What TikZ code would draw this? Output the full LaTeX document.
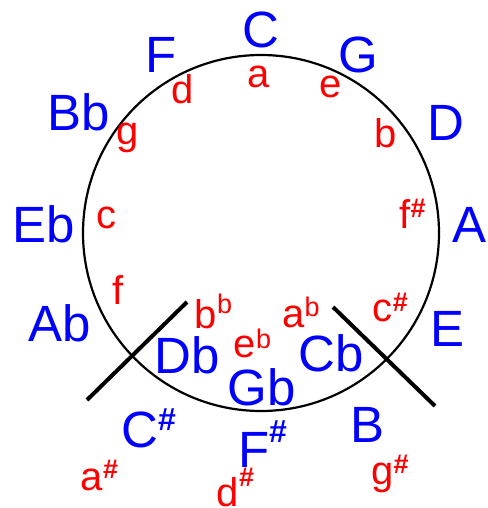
\documentclass[tikz,border=0pt]{standalone}
\usepackage{fontspec}
\setmainfont{Liberation Sans}
\tikzset{major/.style={text=blue, inner sep=0pt, anchor=base, font=\fontsize{51}{60}\selectfont},
  minor/.style={text=red, inner sep=0pt, anchor=base, font=\fontsize{40}{48}\selectfont},
  seam/.style={line width=4pt}}
\newcommand{\hi}[2]{\raisebox{#1pt}{\fontsize{27}{30}\selectfont #2}}
\newcommand{\shp}[2][27]{\raisebox{#2pt}{\fontsize{#1}{30}\selectfont\bfseries\#}}

\begin{document}
\begin{tikzpicture}[x=1pt, y=-1pt]
  \useasboundingbox (0,0) rectangle (487,508);
  \coordinate (ctr) at (261,233);
  \draw[line width=2.2pt] (ctr) circle (178pt);
  % major keys
  \node[major] (C) at (260.5,48) {C};
  \node[major] (G) at (358,73) {G};
  \node[major] (D) at (445.5,140) {D};
  \node[major] (A) at (470,242) {A};
  \node[major] (E) at (448,346) {E};
  \node[major] (B) at (368,442) {B};
  \node[major] (Cb) at (331.5,371) {Cb};
  \node[major] (Gb) at (261.5,405) {Gb};
  \node[major] (Fs) at (262.5,467) {F\shp[32]{25}};
  \node[major] (Db) at (187.5,373) {Db};
  \node[major] (Cs) at (148.5,447) {C\shp[32]{17}};
  \node[major] (Ab) at (60,341) {Ab};
  \node[major] (Eb) at (44,242) {Eb};
  \node[major] (Bb) at (78.5,130) {Bb};
  \node[major] (F) at (161.5,73) {F};
  % minor keys
  \node[minor] (a) at (258.5,88) {a};
  \node[minor] (e) at (330.5,98) {e};
  \node[minor] (b) at (386,147) {b};
  \node[minor] (fs) at (412.5,228) {f\shp{11}};
  \node[minor] (cs) at (390.5,321) {c\shp{10}};
  \node[minor] (gs) at (390,484) {g\shp{11}};
  \node[minor] (af) at (301,327) {a\hi{11}{b}};
  \node[minor] (ef) at (252.5,357) {e\hi{9}{b}};
  \node[minor] (ds) at (235.5,506) {d\shp{20}};
  \node[minor] (bf) at (213.5,328) {b\hi{15}{b}};
  \node[minor] (as) at (99.5,490) {a\shp{12}};
  \node[minor] (f) at (118.5,304) {f};
  \node[minor] (c) at (106,228) {c};
  \node[minor] (g) at (127.5,144) {g};
  \node[minor] (d) at (182.5,103) {d};
  % enharmonic seams
  \coordinate (lin) at (187,302);
  \coordinate (lout) at (87,400);
  \coordinate (rin) at (333,307);
  \coordinate (rout) at (435,406);
  \draw[seam] (lin) -- (lout);
  \draw[seam] (rin) -- (rout);
\end{tikzpicture}
\end{document}
